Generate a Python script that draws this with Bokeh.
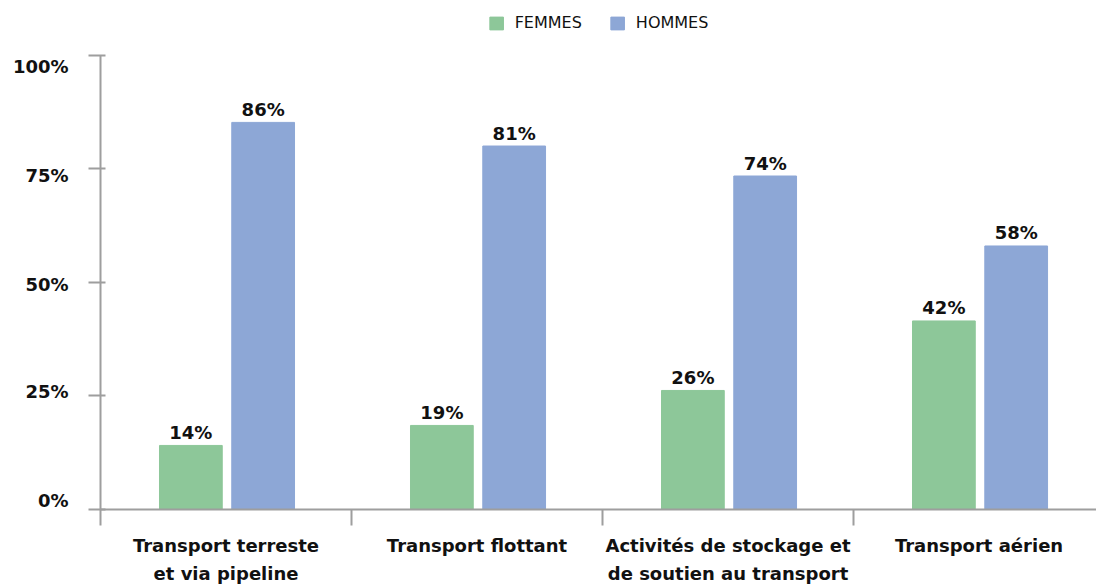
from bokeh.plotting import figure
from bokeh.models import Range1d, FixedTicker, ColumnDataSource
from bokeh.core.properties import value
from bokeh.embed import file_html
from bokeh.resources import INLINE

# ---- data ----
categories = [
    "Transport terreste\net via pipeline",
    "Transport flottant",
    "Activités de stockage et\nde soutien au transport",
    "Transport aérien",
]
femmes = [14.1, 18.5, 26.2, 41.5]
hommes = [85.2, 80.0, 73.4, 58.0]
femmes_labels = ["14%", "19%", "26%", "42%"]
hommes_labels = ["86%", "81%", "74%", "58%"]
y_ticks = [0, 25, 50, 75, 100]
y_tick_labels = ["0%", "25%", "50%", "75%", "100%"]

# ---- styling / layout ----
GREEN = "#8DC799"
BLUE = "#8DA7D6"
AXIS = "#9E9E9E"
TXT = "#111111"
FONT = "DejaVu Sans"
OFF_F, OFF_H, BAR_W = -0.14, 0.148, 0.25
# label positions of y-axis texts (they sit slightly off the tick marks)
y_label_pos = [2.0, 25.9, 49.6, 73.5, 97.5]

idx = list(range(len(categories)))
centers = [i + 0.5 for i in idx]
src = ColumnDataSource(dict(
    xf=[c + OFF_F for c in centers],
    xh=[c + OFF_H for c in centers],
    femmes=femmes, hommes=hommes,
    lf=femmes_labels, lh=hommes_labels,
))

p = figure(width=1096, height=587, output_backend="svg", toolbar_location=None,
           x_range=Range1d(0, 3.968), y_range=Range1d(0, 112.03),
           min_border_left=100, min_border_right=0, min_border_top=0,
           min_border_bottom=78)
p.outline_line_color = None
p.xgrid.visible = False
p.ygrid.visible = False
p.background_fill_color = "white"
p.border_fill_color = "white"

p.vbar(x="xf", top="femmes", width=BAR_W, source=src, color=GREEN, legend_label="FEMMES")
p.vbar(x="xh", top="hommes", width=BAR_W, source=src, color=BLUE, legend_label="HOMMES")

for xcol, ycol, tcol in (("xf", "femmes", "lf"), ("xh", "hommes", "lh")):
    p.text(x=xcol, y=ycol, text=tcol, source=src, text_align="center",
           text_baseline="alphabetic", y_offset=-13,
           text_font=value(FONT), text_font_style="bold",
           text_font_size="18px", text_color=TXT)

# x axis: labels at centres, minor ticks at category boundaries
xa = p.xaxis[0]
xa.ticker = FixedTicker(ticks=centers, minor_ticks=[0, 1, 2, 3, 4])
xa.major_label_overrides = {c: lab for c, lab in zip(centers, categories)}
xa.major_tick_in = 0
xa.major_tick_out = 0
xa.minor_tick_in = 0
xa.minor_tick_out = 16
xa.minor_tick_line_color = AXIS
xa.minor_tick_line_width = 2
xa.axis_line_color = AXIS
xa.axis_line_width = 2
xa.major_label_text_font = FONT
xa.major_label_text_font_style = "bold"
xa.major_label_text_font_size = "18px"
xa.major_label_text_color = TXT
xa.major_label_text_line_height = 1.38
xa.major_label_standoff = 9

# y axis: labels at y_label_pos, tick marks (minor) at y_ticks
ya = p.yaxis[0]
ya.bounds = (0, 100)
ya.ticker = FixedTicker(ticks=y_label_pos, minor_ticks=y_ticks)
ya.major_label_overrides = {pos: lab for pos, lab in zip(y_label_pos, y_tick_labels)}
ya.major_tick_in = 0
ya.major_tick_out = 0
ya.minor_tick_in = 5
ya.minor_tick_out = 12
ya.minor_tick_line_color = AXIS
ya.minor_tick_line_width = 2
ya.axis_line_color = AXIS
ya.axis_line_width = 2
ya.major_label_text_font = FONT
ya.major_label_text_font_style = "bold"
ya.major_label_text_font_size = "18px"
ya.major_label_text_color = TXT
ya.major_label_standoff = 20

lg = p.legend[0]
lg.location = "top_center"
lg.orientation = "horizontal"
lg.margin = 13
lg.padding = 6
lg.spacing = 27
lg.glyph_width = 17
lg.glyph_height = 16
lg.label_standoff = 10
lg.label_text_font = FONT
lg.label_text_font_size = "16px"
lg.label_text_color = TXT
lg.border_line_color = None
lg.background_fill_alpha = 0

open("out.html", "w").write(file_html(p, INLINE))
